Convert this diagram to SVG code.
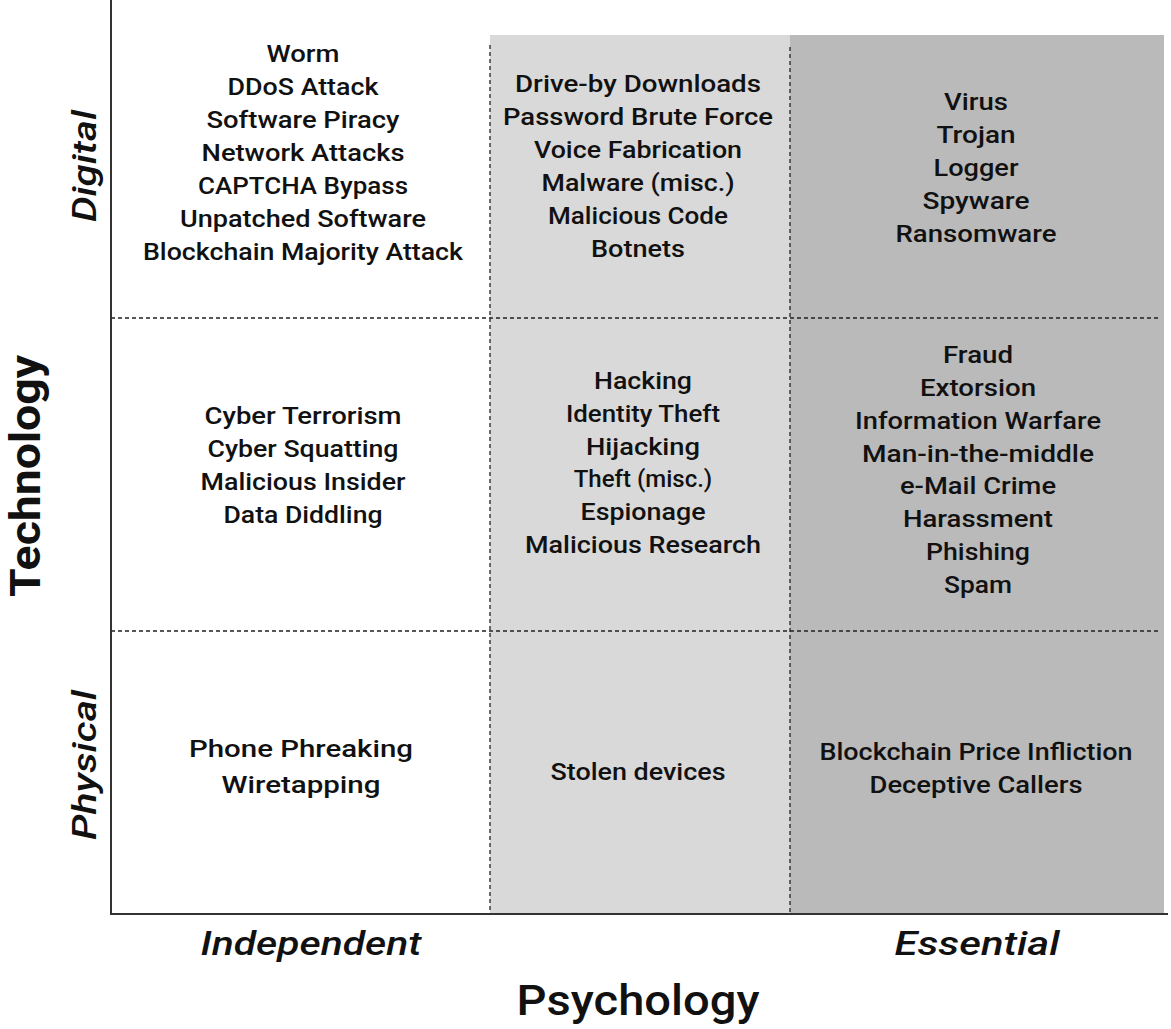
<svg xmlns="http://www.w3.org/2000/svg" width="1171" height="1029" viewBox="0 0 1171 1029">
<style>
text{font-family:Roboto,"Liberation Sans",sans-serif;fill:#111;text-anchor:middle}
.it{font-size:24px;font-weight:500}
.lab{font-size:34px;font-weight:500;font-style:italic}
.ax{font-size:43px;font-weight:500}
.axb{font-size:42px;font-weight:700}
.dash{stroke:#222;stroke-width:1.3;stroke-dasharray:4 3;fill:none}
.axis{stroke:#333;stroke-width:2;fill:none}
</style>
<rect width="1171" height="1029" fill="#fff"/>
<g id="bands">
<rect x="490" y="35" width="300" height="879" fill="#d9d9d9"/>
<rect x="790" y="35" width="374" height="879" fill="#bababa"/>
</g>
<g id="grid">
<line class="dash" x1="111" y1="318" x2="1158" y2="318"/>
<line class="dash" x1="111" y1="631" x2="1158" y2="631"/>
<line class="dash" x1="490" y1="45" x2="490" y2="914"/>
<line class="dash" x1="790" y1="47" x2="790" y2="914"/>
<line class="axis" x1="111" y1="0" x2="111" y2="915"/>
<line class="axis" x1="110" y1="914" x2="1168" y2="914"/>
</g>
<g id="axis-labels">
<text class="axb" transform="translate(40,476) rotate(-90)" textLength="242" lengthAdjust="spacingAndGlyphs">Technology</text>
<text class="lab" transform="translate(96,166) rotate(-90)" textLength="112" lengthAdjust="spacingAndGlyphs">Digital</text>
<text class="lab" transform="translate(96,765) rotate(-90)" textLength="150" lengthAdjust="spacingAndGlyphs">Physical</text>
<text class="lab" x="311" y="955" textLength="221" lengthAdjust="spacingAndGlyphs">Independent</text>
<text class="lab" x="977" y="955" textLength="165" lengthAdjust="spacingAndGlyphs">Essential</text>
<text class="ax" x="638" y="1015" textLength="243" lengthAdjust="spacingAndGlyphs">Psychology</text>
</g>
<g id="cell-digital-independent">
<text class="it" x="303" y="62" textLength="73" lengthAdjust="spacingAndGlyphs">Worm</text>
<text class="it" x="303" y="95" textLength="151" lengthAdjust="spacingAndGlyphs">DDoS Attack</text>
<text class="it" x="303" y="128" textLength="193" lengthAdjust="spacingAndGlyphs">Software Piracy</text>
<text class="it" x="303" y="161" textLength="203" lengthAdjust="spacingAndGlyphs">Network Attacks</text>
<text class="it" x="303" y="194" textLength="210" lengthAdjust="spacingAndGlyphs">CAPTCHA Bypass</text>
<text class="it" x="303" y="227" textLength="246" lengthAdjust="spacingAndGlyphs">Unpatched Software</text>
<text class="it" x="303" y="260" textLength="320" lengthAdjust="spacingAndGlyphs">Blockchain Majority Attack</text>
</g>
<g id="cell-digital-middle">
<text class="it" x="638" y="92" textLength="246" lengthAdjust="spacingAndGlyphs">Drive-by Downloads</text>
<text class="it" x="638" y="125" textLength="270" lengthAdjust="spacingAndGlyphs">Password Brute Force</text>
<text class="it" x="638" y="158" textLength="208" lengthAdjust="spacingAndGlyphs">Voice Fabrication</text>
<text class="it" x="638" y="191" textLength="193" lengthAdjust="spacingAndGlyphs">Malware (misc.)</text>
<text class="it" x="638" y="224" textLength="180" lengthAdjust="spacingAndGlyphs">Malicious Code</text>
<text class="it" x="638" y="257" textLength="94" lengthAdjust="spacingAndGlyphs">Botnets</text>
</g>
<g id="cell-digital-essential">
<text class="it" x="976" y="110" textLength="64" lengthAdjust="spacingAndGlyphs">Virus</text>
<text class="it" x="976" y="143" textLength="79" lengthAdjust="spacingAndGlyphs">Trojan</text>
<text class="it" x="976" y="176" textLength="85" lengthAdjust="spacingAndGlyphs">Logger</text>
<text class="it" x="976" y="209" textLength="107" lengthAdjust="spacingAndGlyphs">Spyware</text>
<text class="it" x="976" y="242" textLength="161" lengthAdjust="spacingAndGlyphs">Ransomware</text>
</g>
<g id="cell-mixed-independent">
<text class="it" x="303" y="424" textLength="197" lengthAdjust="spacingAndGlyphs">Cyber Terrorism</text>
<text class="it" x="303" y="457" textLength="191" lengthAdjust="spacingAndGlyphs">Cyber Squatting</text>
<text class="it" x="303" y="490" textLength="205" lengthAdjust="spacingAndGlyphs">Malicious Insider</text>
<text class="it" x="303" y="523" textLength="159" lengthAdjust="spacingAndGlyphs">Data Diddling</text>
</g>
<g id="cell-mixed-middle">
<text class="it" x="643" y="389" textLength="98" lengthAdjust="spacingAndGlyphs">Hacking</text>
<text class="it" x="643" y="422" textLength="154" lengthAdjust="spacingAndGlyphs">Identity Theft</text>
<text class="it" x="643" y="455" textLength="114" lengthAdjust="spacingAndGlyphs">Hijacking</text>
<text class="it" x="643" y="487">Theft (misc.)</text>
<text class="it" x="643" y="520" textLength="125" lengthAdjust="spacingAndGlyphs">Espionage</text>
<text class="it" x="643" y="553" textLength="236" lengthAdjust="spacingAndGlyphs">Malicious Research</text>
</g>
<g id="cell-mixed-essential">
<text class="it" x="978" y="363" textLength="70" lengthAdjust="spacingAndGlyphs">Fraud</text>
<text class="it" x="978" y="396" textLength="116" lengthAdjust="spacingAndGlyphs">Extorsion</text>
<text class="it" x="978" y="429" textLength="246" lengthAdjust="spacingAndGlyphs">Information Warfare</text>
<text class="it" x="978" y="462" textLength="232" lengthAdjust="spacingAndGlyphs">Man-in-the-middle</text>
<text class="it" x="978" y="494" textLength="156" lengthAdjust="spacingAndGlyphs">e-Mail Crime</text>
<text class="it" x="978" y="527" textLength="150" lengthAdjust="spacingAndGlyphs">Harassment</text>
<text class="it" x="978" y="560" textLength="104" lengthAdjust="spacingAndGlyphs">Phishing</text>
<text class="it" x="978" y="593" textLength="68" lengthAdjust="spacingAndGlyphs">Spam</text>
</g>
<g id="cell-physical-independent">
<text class="it" x="301" y="757" textLength="224" lengthAdjust="spacingAndGlyphs">Phone Phreaking</text>
<text class="it" x="301" y="793" textLength="159" lengthAdjust="spacingAndGlyphs">Wiretapping</text>
</g>
<g id="cell-physical-middle">
<text class="it" x="638" y="780" textLength="175" lengthAdjust="spacingAndGlyphs">Stolen devices</text>
</g>
<g id="cell-physical-essential">
<text class="it" x="976" y="760" textLength="313" lengthAdjust="spacingAndGlyphs">Blockchain Price Infliction</text>
<text class="it" x="976" y="793" textLength="213" lengthAdjust="spacingAndGlyphs">Deceptive Callers</text>
</g>
</svg>
